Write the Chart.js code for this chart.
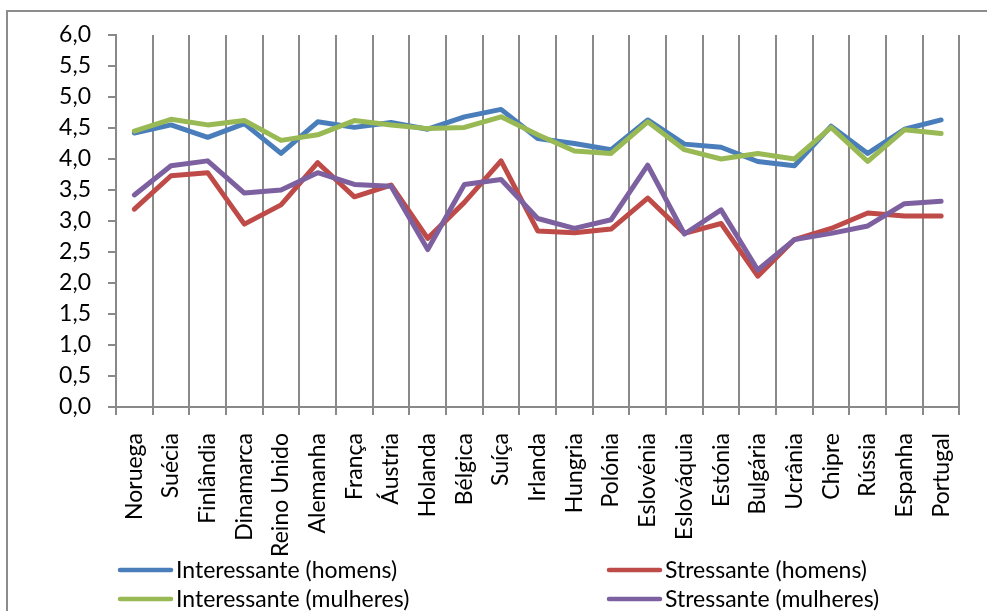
<!DOCTYPE html>
<html>
<head>
<meta charset="utf-8">
<script src="https://cdn.jsdelivr.net/npm/chart.js@4/dist/chart.umd.min.js"></script>
<style>
  html, body { margin: 0; padding: 0; background: #fff; }
  #wrap { position: relative; width: 987px; height: 611px; overflow: hidden; }
  canvas { display: block; }
</style>
</head>
<body>
<div id="wrap"><canvas id="c" width="987" height="611"></canvas></div>
<script>
// Países (eixo das categorias)
const paises = ['Noruega', 'Suécia', 'Finlândia', 'Dinamarca', 'Reino Unido', 'Alemanha', 'França',
  'Áustria', 'Holanda', 'Bélgica', 'Suíça', 'Irlanda', 'Hungria', 'Polónia', 'Eslovénia',
  'Eslováquia', 'Estónia', 'Bulgária', 'Ucrânia', 'Chipre', 'Rússia', 'Espanha', 'Portugal'];

// Médias por país
const interessanteHomens = [4.42, 4.55, 4.35, 4.57, 4.09, 4.60, 4.51, 4.59, 4.48, 4.68, 4.80, 4.33,
  4.25, 4.15, 4.63, 4.24, 4.19, 3.96, 3.89, 4.53, 4.09, 4.48, 4.63];
const stressanteHomens = [3.19, 3.73, 3.78, 2.95, 3.26, 3.94, 3.39, 3.58, 2.72, 3.30, 3.97, 2.84,
  2.81, 2.87, 3.37, 2.80, 2.96, 2.11, 2.70, 2.88, 3.13, 3.08, 3.08];
const interessanteMulheres = [4.45, 4.64, 4.55, 4.62, 4.30, 4.39, 4.62, 4.55, 4.49, 4.51, 4.68, 4.39,
  4.13, 4.09, 4.60, 4.15, 4.00, 4.09, 4.00, 4.51, 3.96, 4.47, 4.41];
const stressanteMulheres = [3.42, 3.89, 3.97, 3.45, 3.50, 3.78, 3.59, 3.56, 2.54, 3.59, 3.67, 3.04,
  2.88, 3.02, 3.90, 2.79, 3.18, 2.21, 2.70, 2.80, 2.92, 3.28, 3.32];

// Rótulos do eixo vertical
const rotulosY = ['0,0', '0,5', '1,0', '1,5', '2,0', '2,5', '3,0', '3,5', '4,0', '4,5', '5,0', '5,5', '6,0'];

const series = [
  { label: 'Interessante (homens)', data: interessanteHomens, color: '#4A7EBB' },
  { label: 'Stressante (homens)', data: stressanteHomens, color: '#BE4B48' },
  { label: 'Interessante (mulheres)', data: interessanteMulheres, color: '#98B954' },
  { label: 'Stressante (mulheres)', data: stressanteMulheres, color: '#7D60A0' }
];

const FONT = 'Lato, "Open Sans", sans-serif';
const FONT_SIZE = 23;
const GRID = '#898989';

Chart.defaults.font.family = FONT;
Chart.defaults.font.size = FONT_SIZE;
Chart.defaults.color = '#000';

// Moldura exterior do gráfico
const moldura = {
  id: 'moldura',
  beforeDraw(chart) {
    const ctx = chart.ctx;
    ctx.save();
    ctx.fillStyle = '#fff';
    ctx.fillRect(0, 0, chart.width, chart.height);
    ctx.strokeStyle = '#8c8c8c';
    ctx.lineWidth = 2;
    ctx.strokeRect(7, 11, chart.width + 20, chart.height + 20);
    ctx.restore();
  }
};

// Legenda em duas colunas por baixo do eixo
const legenda = {
  id: 'legenda',
  afterDraw(chart) {
    const ctx = chart.ctx;
    const colX = [118, 607];
    const rowY = [570, 599];
    ctx.save();
    ctx.font = FONT_SIZE + 'px ' + FONT;
    ctx.textBaseline = 'middle';
    ctx.textAlign = 'left';
    chart.data.datasets.forEach((ds, i) => {
      const x = colX[i % 2];
      const y = rowY[Math.floor(i / 2)];
      ctx.strokeStyle = ds.borderColor;
      ctx.lineWidth = 4.5;
      ctx.lineCap = 'round';
      ctx.beginPath();
      ctx.moveTo(x + 2, y);
      ctx.lineTo(x + 53, y);
      ctx.stroke();
      ctx.fillStyle = '#000';
      ctx.fillText(ds.label, x + 58, y + 1);
    });
    ctx.restore();
  }
};

new Chart(document.getElementById('c'), {
  type: 'line',
  data: {
    labels: paises,
    datasets: series.map((s, i) => ({
      label: s.label,
      data: s.data,
      borderColor: s.color,
      backgroundColor: s.color,
      borderWidth: 5,
      borderJoinStyle: 'round',
      borderCapStyle: 'round',
      pointRadius: 0,
      tension: 0,
      fill: false,
      order: series.length - i
    }))
  },
  options: {
    responsive: false,
    animation: false,
    devicePixelRatio: 1,
    layout: { padding: { top: 35, right: 13, left: 0, bottom: 0 } },
    plugins: {
      legend: { display: false },
      tooltip: { enabled: false }
    },
    scales: {
      x: {
        type: 'category',
        offset: true,
        grid: {
          offset: true,
          drawOnChartArea: true,
          drawTicks: true,
          tickLength: 8,
          color: GRID,
          lineWidth: 2
        },
        border: { display: true, color: GRID, width: 2 },
        ticks: {
          autoSkip: false,
          minRotation: 90,
          maxRotation: 90,
          padding: 18,
          color: '#000'
        },
        afterFit(scale) { scale.height = 204; }
      },
      y: {
        min: 0,
        max: 6,
        grid: {
          drawOnChartArea: false,
          drawTicks: true,
          tickLength: 8,
          color: GRID,
          lineWidth: 2
        },
        border: { display: true, color: GRID, width: 2 },
        ticks: {
          stepSize: 0.5,
          padding: 17,
          color: '#000',
          callback: (v, idx) => rotulosY[idx]
        },
        afterFit(scale) { scale.width = 116; }
      }
    }
  },
  plugins: [moldura, legenda]
});
</script>
</body>
</html>
